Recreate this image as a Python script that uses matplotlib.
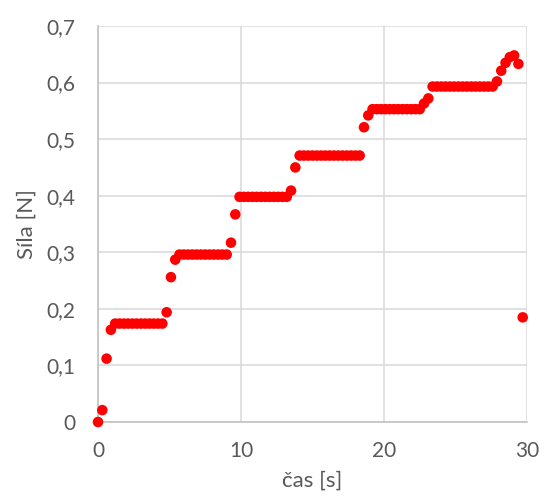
import matplotlib
matplotlib.use("Agg")
import matplotlib.pyplot as plt
from matplotlib.ticker import FuncFormatter, FixedLocator

# time [s]
cas = [0.0, 0.3, 0.6, 0.9, 1.2, 1.5, 1.8, 2.1, 2.4, 2.7,
       3.0, 3.3, 3.6, 3.9, 4.2, 4.5, 4.8, 5.1, 5.4, 5.7,
       6.0, 6.3, 6.6, 6.9, 7.2, 7.5, 7.8, 8.1, 8.4, 8.7,
       9.0, 9.3, 9.6, 9.9, 10.2, 10.5, 10.8, 11.1, 11.4, 11.7,
       12.0, 12.3, 12.6, 12.9, 13.2, 13.5, 13.8, 14.1, 14.4, 14.7,
       15.0, 15.3, 15.6, 15.9, 16.2, 16.5, 16.8, 17.1, 17.4, 17.7,
       18.0, 18.3, 18.6, 18.9, 19.2, 19.5, 19.8, 20.1, 20.4, 20.7,
       21.0, 21.3, 21.6, 21.9, 22.2, 22.5, 22.8, 23.1, 23.4, 23.7,
       24.0, 24.3, 24.6, 24.9, 25.2, 25.5, 25.8, 26.1, 26.4, 26.7,
       27.0, 27.3, 27.6, 27.9, 28.2, 28.5, 28.8, 29.1, 29.4, 29.7]

# force [N]
sila = [0.000, 0.021, 0.112, 0.163, 0.174, 0.174, 0.174, 0.174, 0.174, 0.174,
        0.174, 0.174, 0.174, 0.174, 0.174, 0.174, 0.194, 0.256, 0.287, 0.296,
        0.296, 0.296, 0.296, 0.296, 0.296, 0.296, 0.296, 0.296, 0.296, 0.296,
        0.296, 0.317, 0.367, 0.398, 0.398, 0.398, 0.398, 0.398, 0.398, 0.398,
        0.398, 0.398, 0.398, 0.398, 0.398, 0.409, 0.450, 0.471, 0.471, 0.471,
        0.471, 0.471, 0.471, 0.471, 0.471, 0.471, 0.471, 0.471, 0.471, 0.471,
        0.471, 0.471, 0.521, 0.542, 0.553, 0.553, 0.553, 0.553, 0.553, 0.553,
        0.553, 0.553, 0.553, 0.553, 0.553, 0.553, 0.563, 0.572, 0.593, 0.593,
        0.593, 0.593, 0.593, 0.593, 0.593, 0.593, 0.593, 0.593, 0.593, 0.593,
        0.593, 0.593, 0.593, 0.602, 0.621, 0.635, 0.645, 0.648, 0.633, 0.185]

x_ticks = [0, 10, 20, 30]
y_ticks = [0, 0.1, 0.2, 0.3, 0.4, 0.5, 0.6, 0.7]
x_label = "čas [s]"
y_label = "Síla [N]"

plt.rcParams['font.family'] = ['Lato', 'DejaVu Sans']
text_color = '#595959'
grid_color = '#D9D9D9'

fig = plt.figure(figsize=(5.48, 4.98), dpi=100)
ax = fig.add_axes([98/548, 1-422/498, (527-98)/548, (422-26)/498])

ax.scatter(cas, sila, s=7.6**2, color='#FF0000', edgecolors='none',
           zorder=3, clip_on=False)

ax.set_xlim(0, 30)
ax.set_ylim(0, 0.7)
ax.xaxis.set_major_locator(FixedLocator(x_ticks))
ax.yaxis.set_major_locator(FixedLocator(y_ticks))

def yfmt(v, pos):
    if abs(v) < 1e-9:
        return '0'
    return f'{v:.1f}'.replace('.', ',')

ax.yaxis.set_major_formatter(FuncFormatter(yfmt))
ax.xaxis.set_major_formatter(FuncFormatter(lambda v, p: f'{int(round(v))}'))

ax.grid(True, color=grid_color, linewidth=1.1, zorder=0)
ax.set_axisbelow(True)
for side in ['top', 'right']:
    ax.spines[side].set_visible(False)
for side in ['left', 'bottom']:
    ax.spines[side].set_color('#BFBFBF')
    ax.spines[side].set_linewidth(1.1)

ax.tick_params(axis='both', length=0, labelsize=15, labelcolor=text_color)
ax.tick_params(axis='y', pad=16)
ax.tick_params(axis='x', pad=14)

ax.set_xlabel(x_label, fontsize=16, color=text_color, labelpad=7)
ax.set_ylabel(y_label, fontsize=16, color=text_color, labelpad=7)

fig.savefig('out.png', dpi=100, facecolor='white')
